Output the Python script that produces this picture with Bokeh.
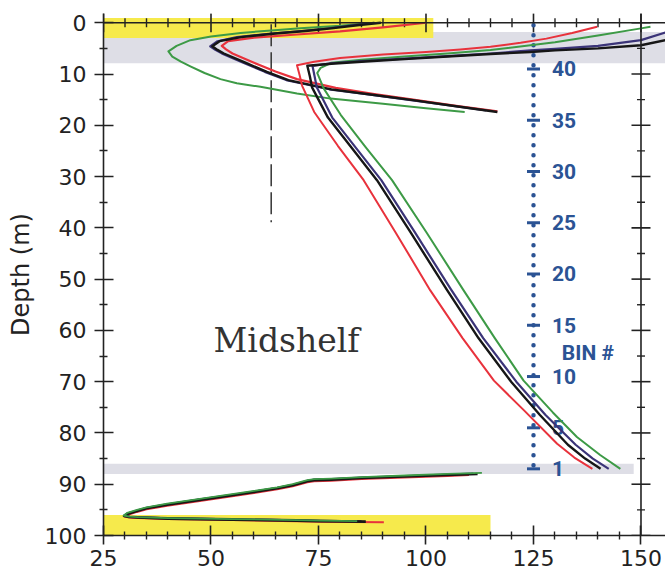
from math import pi

from bokeh.plotting import figure
from bokeh.models import Range1d, FixedTicker, Span, Label
from bokeh.core.properties import value
from bokeh.embed import file_html
from bokeh.resources import INLINE

# ---- axes ----
x_major = [25, 50, 75, 100, 125, 150]
x_minor = [30, 35, 40, 45, 55, 60, 65, 70, 80, 85, 90, 95,
           105, 110, 115, 120, 130, 135, 140, 145]
y_major = [0, 10, 20, 30, 40, 50, 60, 70, 80, 90, 100]
y_minor = [5, 15, 25, 35, 45, 55, 65, 75, 85, 95]

# ---- shaded depth bands (x from, x to, depth top, depth bottom) ----
band_left = [25, 25, 25, 25]
band_right = [158, 101.7, 148.3, 115]
band_top = [1.8, -0.9, 86.0, 96.0]
band_bottom = [7.9, 3.0, 88.0, 100.0]
band_color = ["#dedee6", "#f6ea4c", "#dedee6", "#f6ea4c"]

# ---- ADCP bin scale ----
bin_labels = ["40", "35", "30", "25", "20", "15", "10", "5", "1"]
bin_depth = [9, 19, 29, 39, 49, 59, 69, 79, 87]
bin_column_x = 125
bin_column_top = 0.5

# ---- profiles: main cast ----
red_main_x = [139.8, 134, 128, 122, 115, 108, 100, 90, 80, 74, 70.0, 70.6, 71.2, 74.0,
              79.5, 85.5, 93.0, 101.0, 108.5, 115.8, 122.8, 130.5, 134.5, 138.7]
red_main_d = [0.8, 2.0, 3.1, 3.9, 4.7, 5.2, 5.7, 6.2, 6.9, 7.6, 8.3, 10.2, 12.3, 17.4,
              24.0, 30.7, 41.0, 52.2, 61.5, 69.8, 75.6, 82.1, 84.8, 87.0]

black_main_x = [158, 155.7, 150, 140, 130, 124.3, 115, 105, 95, 85, 78, 72.4, 73.0, 73.5,
                77.2, 82.8, 88.6, 96.5, 104.8, 112.2, 119.8, 126.5, 133.0, 137.0, 140.6]
black_main_d = [3.0, 3.4, 4.4, 5.0, 5.4, 5.7, 6.1, 6.6, 7.1, 7.6, 8.0, 8.4, 10.5, 12.6,
                18.5, 24.5, 30.7, 41.0, 52.0, 61.5, 70.0, 76.5, 82.3, 85.0, 87.0]

navy_main_x = [158, 155.7, 150, 140, 130, 124.3, 115, 105, 95, 85, 78, 73.6, 74.1, 74.6,
               78.2, 83.8, 89.6, 97.5, 105.8, 113.3, 121.0, 127.8, 134.8, 138.8, 142.5]
navy_main_d = [1.5, 1.9, 3.4, 4.5, 5.1, 5.4, 6.0, 6.5, 7.0, 7.5, 7.9, 8.4, 10.5, 12.6,
               18.5, 24.5, 30.7, 41.0, 52.0, 61.5, 70.0, 76.5, 82.3, 85.0, 87.0]

green_main_x = [152.2, 150, 140, 130, 124.3, 115, 105, 95, 85, 78, 75.5, 74.7, 76.2,
                80.2, 86.0, 92.1, 100.2, 108.6, 116.0, 122.7, 129.5, 135.1, 140.5, 145.2]
green_main_d = [0.8, 1.1, 2.5, 3.8, 4.4, 5.3, 6.0, 6.6, 7.2, 7.8, 8.8, 9.8, 12.8,
                18.0, 24.3, 30.7, 41.0, 52.0, 61.5, 69.8, 76.0, 80.8, 84.3, 87.0]

# ---- profiles: near-surface side-lobe returns ----
red_top_x = [100, 90, 80, 70, 60, 54, 52.5, 53.5, 55, 60, 65, 70, 79, 88, 97, 107, 116.6]
red_top_d = [0.0, 0.9, 1.7, 2.3, 2.9, 3.6, 4.5, 5.2, 6.0, 7.8, 9.5, 11.0, 12.7, 13.9, 15.0, 16.2, 17.3]

black_top_x = [89.5, 84, 78, 72, 65, 57, 52, 50.3, 51.5, 53, 58, 63, 68, 78, 88, 97, 107, 116.6]
black_top_d = [0.0, 0.5, 1.1, 1.6, 2.1, 2.8, 3.6, 4.6, 5.3, 6.0, 7.8, 9.6, 11.2, 13.0, 14.1, 15.1, 16.3, 17.4]

navy_top_x = [88, 83, 77, 71, 64, 56, 51.5, 49.8, 51, 52.5, 57.5, 62.5, 67.5, 77.5, 87.5, 96.5, 106, 114]
navy_top_d = [0.0, 0.5, 1.1, 1.6, 2.1, 2.8, 3.6, 4.6, 5.3, 6.0, 7.8, 9.6, 11.2, 13.0, 14.1, 15.1, 16.2, 17.1]

green_top_x = [88, 80, 70.8, 64, 56.9, 50, 45.2, 42, 40.1, 41, 43, 45.2, 48.5, 52.2, 56,
               61.5, 70, 77.8, 90, 100, 109]
green_top_d = [0.0, 0.6, 1.1, 1.5, 2.0, 2.7, 3.4, 4.5, 5.6, 6.6, 7.6, 8.5, 9.8, 11.0, 11.8,
               12.5, 13.8, 14.8, 15.8, 16.7, 17.4]

# ---- profiles: near-bottom returns ----
green_bot_x = [113, 105, 95, 85, 78, 74, 72.4, 69, 65.4, 60, 55.3, 47, 39.8, 35, 32.8, 30.5,
               29.7, 31, 33, 40, 47.6, 55, 63.1, 70, 75.5, 84]
green_bot_d = [87.8, 88.0, 88.3, 88.6, 88.9, 89.0, 89.2, 90.0, 90.6, 91.3, 91.9, 92.9, 93.8,
               94.5, 95.0, 95.6, 96.1, 96.3, 96.4, 96.6, 96.7, 96.8, 96.9, 97.0, 97.1, 97.2]

black_bot_x = [112, 105, 95, 85, 78, 74, 72.4, 69, 65.4, 60, 55.3, 47, 39.8, 35, 32.8, 30.5,
               29.8, 31, 33, 40, 47.6, 55, 63.1, 70, 75.5, 86]
black_bot_d = [88.0, 88.2, 88.5, 88.8, 89.1, 89.2, 89.4, 90.2, 90.8, 91.5, 92.1, 93.1, 94.0,
               94.7, 95.2, 95.8, 96.2, 96.4, 96.5, 96.7, 96.8, 96.9, 97.0, 97.1, 97.2, 97.3]

navy_bot_x = [111, 105, 95, 85, 78, 74, 72.4, 69, 65.4, 60, 55.3, 47, 39.8, 35, 32.8, 30.5,
              29.8, 31, 33, 40, 47.6, 55, 63.1, 70, 75.5, 85]
navy_bot_d = [87.9, 88.1, 88.4, 88.7, 89.0, 89.1, 89.3, 90.1, 90.7, 91.4, 92.0, 93.0, 93.9,
              94.6, 95.1, 95.7, 96.1, 96.3, 96.4, 96.6, 96.7, 96.8, 96.9, 97.0, 97.1, 97.2]

red_bot_x = [110, 105, 95, 85, 78, 74, 72.4, 69, 65.4, 60, 55.3, 47, 39.8, 35, 32.8, 30.5,
             29.9, 31, 33, 40, 47.6, 55, 63.1, 70, 75.5, 90.2]
red_bot_d = [88.2, 88.4, 88.7, 89.0, 89.3, 89.4, 89.6, 90.4, 91.0, 91.7, 92.3, 93.3, 94.2,
             94.9, 95.4, 96.0, 96.3, 96.5, 96.6, 96.8, 96.9, 97.0, 97.1, 97.2, 97.3, 97.4]

# ---- reference marker ----
marker_x = 64
marker_top = 0.3
marker_bottom = 38.9

RED = "#e8323c"
GREEN = "#3d9a46"
BLACK = "#161616"
NAVY = "#3b3478"
BLUE = "#2b5394"
INK = "#222222"

# depth axis starts a little above the surface so the frame edges overhang
p = figure(width=665, height=579,
           x_range=Range1d(25, 155.7), y_range=Range1d(100, -1.8),
           output_backend="svg", toolbar_location=None,
           min_border_left=103, min_border_right=0,
           min_border_top=13, min_border_bottom=44)
p.outline_line_color = None
p.grid.visible = False
p.background_fill_color = "white"
p.border_fill_color = "white"

def style_axis(ax):
    ax.axis_line_color = INK
    ax.axis_line_width = 1.6
    ax.major_tick_line_color = INK
    ax.major_tick_line_width = 1.6
    ax.minor_tick_line_color = INK
    ax.minor_tick_line_width = 1.4
    ax.major_tick_in = 10
    ax.major_tick_out = 9
    ax.minor_tick_in = 4
    ax.minor_tick_out = 4
    ax.major_label_text_font = "DejaVu Sans"
    ax.major_label_text_font_size = "22px"
    ax.major_label_text_color = "#222222"

xb = p.xaxis[0]
xb.ticker = FixedTicker(ticks=x_major, minor_ticks=x_minor)
style_axis(xb)
xb.major_label_standoff = 5

yl = p.yaxis[0]
yl.ticker = FixedTicker(ticks=y_major, minor_ticks=y_minor)
style_axis(yl)
yl.major_label_standoff = 8
yl.axis_label = "Depth (m)"
yl.axis_label_text_font = "DejaVu Sans"
yl.axis_label_text_font_style = "normal"
yl.axis_label_text_font_size = "24px"
yl.axis_label_text_color = "#222222"
yl.axis_label_standoff = 7

# bands
p.quad(left=band_left, right=band_right, top=band_top, bottom=band_bottom,
       fill_color=band_color, line_color=None)

# surface edge (top) and right-hand edge, each with crossing ticks
p.add_layout(Span(location=y_major[0], dimension="width", line_color=INK, line_width=1.6))
p.add_layout(Span(location=x_major[-1], dimension="height", line_color=INK, line_width=1.6))
p.scatter(x=x_major, y=[y_major[0]] * len(x_major), marker="dash", angle=pi / 2,
          size=19, line_color=INK, line_width=1.6)
p.scatter(x=x_minor, y=[y_major[0]] * len(x_minor), marker="dash", angle=pi / 2,
          size=9, line_color=INK, line_width=1.4)
p.scatter(x=[x_major[-1]] * len(y_major), y=y_major, marker="dash", size=19,
          line_color=INK, line_width=1.6)
p.scatter(x=[x_major[-1]] * len(y_minor), y=y_minor, marker="dash", size=8,
          line_color=INK, line_width=1.4)

# dashed reference marker
p.line(x=[marker_x, marker_x], y=[marker_top, marker_bottom], line_color="#333333",
       line_width=1.5, line_dash="22 6")

# bin column
p.line(x=[bin_column_x, bin_column_x], y=[bin_column_top, bin_depth[-1]], line_color=BLUE,
       line_width=4.5, line_dash="0 10", line_cap="round")
p.scatter(x=[bin_column_x] * len(bin_depth), y=bin_depth, marker="dash", size=13,
          line_color=BLUE, line_width=3)
p.text(x=[129.3] * len(bin_depth), y=bin_depth, text=bin_labels,
       text_font=value("Roboto"), text_font_style="bold", text_font_size="21px",
       text_color=BLUE, text_align="left", text_baseline="middle")
p.add_layout(Label(x=131.6, y=64.5, text="BIN  #", text_font="Roboto",
                   text_font_style="bold", text_font_size="21px", text_color=BLUE,
                   text_align="left", text_baseline="middle"))

# profiles
for xs, ds, col, w in [
    (green_top_x, green_top_d, GREEN, 2.0),
    (navy_top_x, navy_top_d, NAVY, 2.0),
    (red_top_x, red_top_d, RED, 2.2),
    (black_top_x, black_top_d, BLACK, 2.4),
    (red_bot_x, red_bot_d, RED, 2.0),
    (navy_bot_x, navy_bot_d, NAVY, 2.0),
    (black_bot_x, black_bot_d, BLACK, 2.6),
    (green_bot_x, green_bot_d, GREEN, 1.8),
    (green_main_x, green_main_d, GREEN, 2.0),
    (red_main_x, red_main_d, RED, 2.0),
    (navy_main_x, navy_main_d, NAVY, 2.2),
    (black_main_x, black_main_d, BLACK, 2.4),
]:
    p.line(x=xs, y=ds, line_color=col, line_width=w, line_join="round")

p.add_layout(Label(x=50.6, y=62, text="Midshelf", text_font="DejaVu Serif",
                   text_font_size="33px", text_color="#333333",
                   text_align="left", text_baseline="alphabetic"))

open("out.html", "w").write(file_html(p, INLINE))
